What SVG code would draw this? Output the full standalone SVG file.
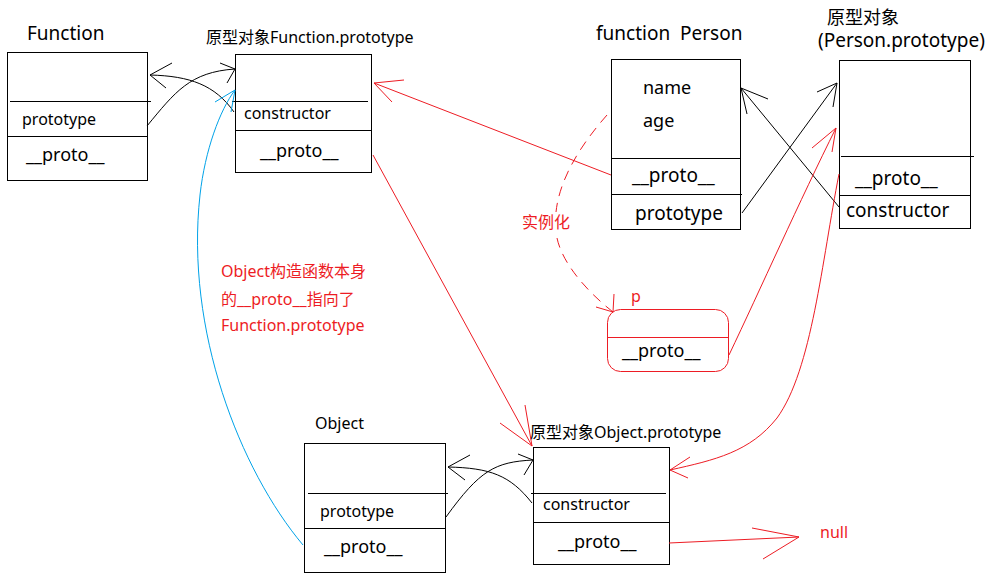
<svg xmlns="http://www.w3.org/2000/svg" width="987" height="576" viewBox="0 0 987 576">
<style>
  text { font-family: "Noto Sans", "Noto Sans CJK SC", sans-serif; fill: #000; }
  .box { fill: none; stroke: #000; stroke-width: 1; }
  .pbox { fill: none; stroke: #ed1c24; stroke-width: 1; }
  .div { stroke: #000; stroke-width: 1; }
  .pdiv { stroke: #ed1c24; stroke-width: 1; }
  .blk { fill: none; stroke: #000; stroke-width: 1; }
  .red { fill: none; stroke: #ed1c24; stroke-width: 1; }
  .blue { fill: none; stroke: #00a2e8; stroke-width: 1; }
  .dash { fill: none; stroke: #ed1c24; stroke-width: 1; stroke-dasharray: 10 7; }
  .t16 { font-size: 16px; }
  .t18 { font-size: 18px; }
  .t19 { font-size: 19px; }
  .rt { fill: #ed1c24; }
</style>
<rect width="987" height="576" fill="#fff"/>

<g id="node-function">
  <text class="t19" x="27" y="40">Function</text>
  <rect class="box" x="7.5" y="52.5" width="140" height="128"/>
  <line class="div" x1="10" y1="101.5" x2="151" y2="101.5"/>
  <line class="div" x1="7.5" y1="136.5" x2="147.5" y2="136.5"/>
  <text class="t16" x="22" y="125">prototype</text>
  <text class="t18" x="26" y="161">__proto__</text>
</g>

<g id="node-function-prototype">
  <text class="t16" x="206" y="43">原型对象Function.prototype</text>
  <rect class="box" x="235.5" y="54.5" width="136" height="118"/>
  <line class="div" x1="232" y1="101.5" x2="368" y2="101.5"/>
  <line class="div" x1="235.5" y1="130.5" x2="371.5" y2="130.5"/>
  <text class="t16" x="244" y="119">constructor</text>
  <text class="t18" x="260" y="157">__proto__</text>
</g>

<g id="node-person">
  <text class="t19" x="596" y="40" xml:space="preserve">function  Person</text>
  <rect class="box" x="611.5" y="59.5" width="129" height="170"/>
  <line class="div" x1="611.5" y1="158.5" x2="740.5" y2="158.5"/>
  <line class="div" x1="611.5" y1="194.5" x2="742" y2="194.5"/>
  <text class="t18" x="643" y="94">name</text>
  <text class="t18" x="643" y="127">age</text>
  <text class="t19" x="632" y="182">__proto__</text>
  <text class="t19" x="635" y="220">prototype</text>
</g>

<g id="node-person-prototype">
  <text class="t18" x="827" y="24">原型对象</text>
  <text class="t19" x="818" y="47">(Person.prototype)</text>
  <rect class="box" x="839.5" y="60.5" width="131" height="168"/>
  <line class="div" x1="841" y1="156.5" x2="974" y2="156.5"/>
  <line class="div" x1="839.5" y1="195.5" x2="970.5" y2="195.5"/>
  <text class="t19" x="855" y="185">__proto__</text>
  <text class="t19" x="846" y="217">constructor</text>
</g>

<g id="node-p">
  <text class="t16 rt" x="631" y="302">p</text>
  <rect class="pbox" x="607.5" y="309.5" width="121" height="62" rx="13" ry="13"/>
  <line class="pdiv" x1="607.5" y1="337.5" x2="728.5" y2="337.5"/>
  <text class="t18" x="622" y="357">__proto__</text>
</g>

<g id="node-object">
  <text class="t16" x="315" y="429">Object</text>
  <rect class="box" x="304.5" y="443.5" width="141" height="129"/>
  <line class="div" x1="308" y1="493.5" x2="448" y2="493.5"/>
  <line class="div" x1="304.5" y1="528.5" x2="445.5" y2="528.5"/>
  <text class="t16" x="320" y="517">prototype</text>
  <text class="t18" x="324" y="553">__proto__</text>
</g>

<g id="node-object-prototype">
  <text class="t16" x="530" y="438">原型对象Object.prototype</text>
  <rect class="box" x="533.5" y="447.5" width="136" height="117"/>
  <line class="div" x1="531" y1="493.5" x2="666" y2="493.5"/>
  <line class="div" x1="533.5" y1="522.5" x2="669.5" y2="522.5"/>
  <text class="t16" x="543" y="510">constructor</text>
  <text class="t18" x="558" y="548">__proto__</text>
</g>

<g id="node-null">
  <text class="t16 rt" x="820" y="538">null</text>
</g>

<g id="note-object-proto">
  <text class="t16 rt" x="221" y="277">Object构造函数本身</text>
  <text class="t16 rt" x="221" y="305">的__proto__指向了</text>
  <text class="t16 rt" x="221" y="331">Function.prototype</text>
</g>

<g id="connectors">
  <path class="blk" d="M147,126 C175,92 190,72 235,69"/>
  <path class="blk" d="M220,63 L235,69 L227,83"/>
  <path class="blk" d="M234,112 C215,85 190,76 150,75"/>
  <path class="blk" d="M172,63 L150,75 L166,88"/>
  <path class="blue" d="M303,545 C240,470 185,330 200,195 C205,150 220,110 235,90"/>
  <path class="blue" d="M215,102 L235,90 L231,112"/>
  <path class="blk" d="M742,213 L837,83"/>
  <path class="blk" d="M817,92 L837,83 L833,107"/>
  <path class="blk" d="M839,207 L741,88"/>
  <path class="blk" d="M768,99 L741,88 L747,114"/>
  <path class="blk" d="M446,517 C480,470 495,462 533,460"/>
  <path class="blk" d="M518,454 L533,460 L524,475"/>
  <path class="blk" d="M532,503 C510,475 490,468 448,467"/>
  <path class="blk" d="M470,455 L448,467 L465,480"/>
  <path class="red" d="M611,175 L374,83"/>
  <path class="red" d="M404,80 L374,83 L392,102"/>
  <path class="red" d="M373,155 L532,446"/>
  <path class="red" d="M525,405 L532,446 L500,423"/>
  <path class="red" d="M839,174 C822,260 812,370 777,418 C750,452 715,460 670,470"/>
  <path class="red" d="M690,457 L670,470 L688,478"/>
  <path class="red" d="M729,355 C760,290 800,200 836,128"/>
  <path class="red" d="M812,148 L836,128 L832,152"/>
  <path class="red" d="M669,543 L799,537"/>
  <path class="red" d="M752,528 L799,537 L763,559"/>
  <path class="dash" d="M607,115 C585,140 560,175 556,212"/>
  <path class="dash" d="M557,238 C562,262 585,290 613,312"/>
  <path class="red" d="M596,307 L613,312 L614,294"/>
  <text class="t16 rt" x="522" y="228">实例化</text>
</g>
</svg>
